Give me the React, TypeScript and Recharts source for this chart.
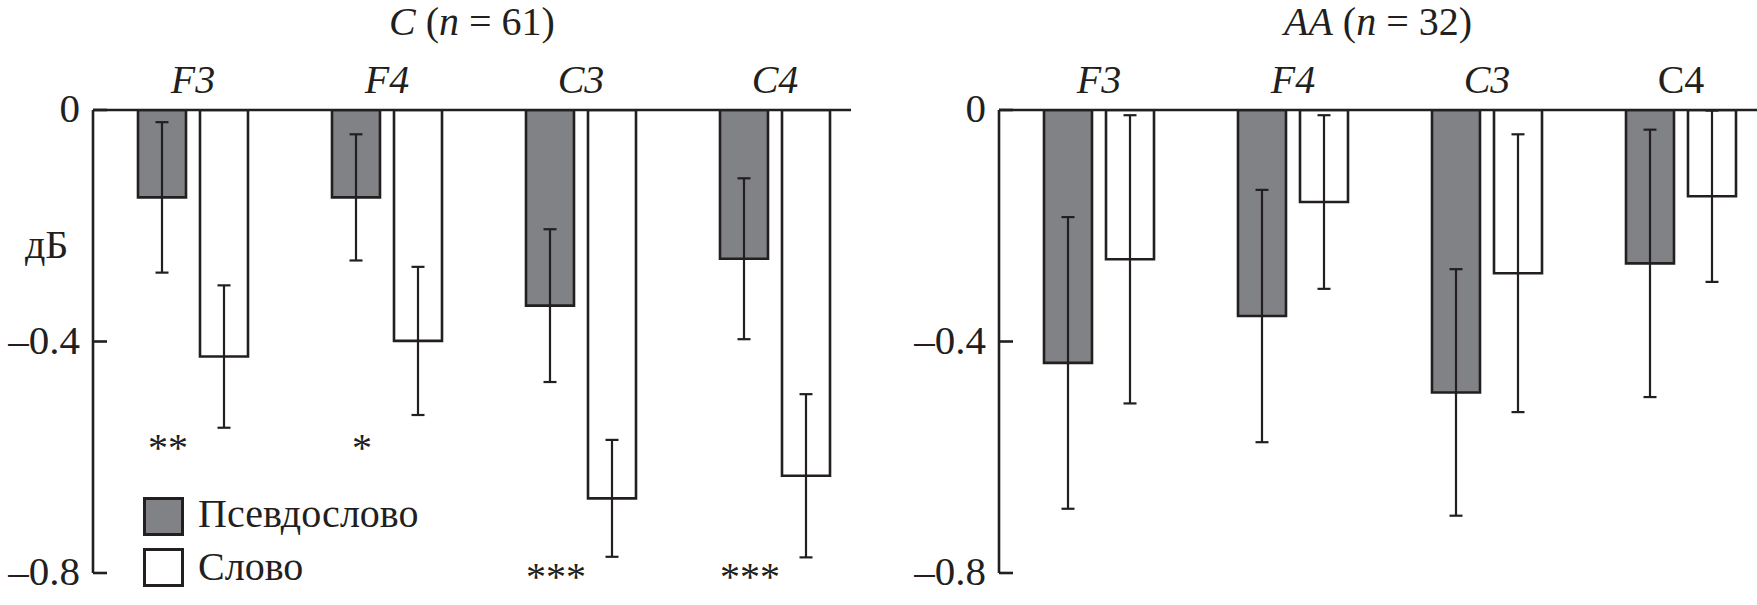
import React from 'react';
import { BarChart, Bar, XAxis, YAxis, ErrorBar, ReferenceDot } from 'recharts';

const categories = ['F3', 'F4', 'C3', 'C4'];

const controlPseudo = [-0.151, -0.151, -0.338, -0.257];
const controlPseudoErr = [0.13, 0.109, 0.132, 0.139];
const controlWord = [-0.426, -0.399, -0.671, -0.632];
const controlWordErr = [0.123, 0.128, 0.101, 0.141];

const aaPseudo = [-0.437, -0.356, -0.488, -0.265];
const aaPseudoErr = [0.252, 0.218, 0.213, 0.231];
const aaWord = [-0.258, -0.159, -0.282, -0.149];
const aaWordErr = [0.249, 0.15, 0.24, 0.148];

const controlSignificance = ['**', '*', '***', '***'];
const controlSignificanceLevel = [-0.582, -0.582, -0.805, -0.805];

const yTicks = [0, -0.4, -0.8];
const controlItalic = [true, true, true, true];
const aaItalic = [true, true, true, false];

const INK = '#231f20';
const GRAY = '#808285';
const FONT = '"Liberation Serif", "Times New Roman", serif';

const buildRows = (pseudo: number[], pErr: number[], word: number[], wErr: number[]) =>
  categories.map((cat, i) => ({
    cat,
    pseudo: pseudo[i],
    pseudoErr: pErr[i],
    word: word[i],
    wordErr: wErr[i],
  }));

const controlRows = buildRows(controlPseudo, controlPseudoErr, controlWord, controlWordErr);
const aaRows = buildRows(aaPseudo, aaPseudoErr, aaWord, aaWordErr);

const fmt = (v: number) => (v === 0 ? '0' : '\u2013' + Math.abs(v).toFixed(1));

const makeCatTick = (italics: boolean[]) => (props: any) => {
  const { x, y, payload, index } = props;
  return (
    <text
      x={x}
      y={y}
      textAnchor="middle"
      fontFamily={FONT}
      fontSize={40}
      fill={INK}
      fontStyle={italics[index] ? 'italic' : 'normal'}
    >
      {payload.value}
    </text>
  );
};

const YTick = (props: any) => {
  const { x, y, payload } = props;
  const ax = x + 13;
  return (
    <g>
      <line x1={ax} y1={y} x2={ax + 14} y2={y} stroke={INK} strokeWidth={2.6} />
      <text x={x} y={y + 12} textAnchor="end" fontFamily={FONT} fontSize={41} fill={INK}>
        {fmt(payload.value)}
      </text>
    </g>
  );
};

type PanelProps = {
  rows: any[];
  italics: boolean[];
  width: number;
  marginLeft: number;
  marginRight: number;
  yWidth: number;
  significance?: string[];
  significanceLevel?: number[];
};

const Panel = ({ rows, italics, width, marginLeft, marginRight, yWidth, significance, significanceLevel }: PanelProps) => (
  <BarChart
    width={width}
    height={605}
    data={rows}
    margin={{ top: 60, right: marginRight, bottom: 32, left: marginLeft }}
    barSize={48}
    barGap={14}
  >
    <XAxis
      dataKey="cat"
      orientation="top"
      height={50}
      interval={0}
      tickSize={0}
      tickMargin={17}
      tickLine={false}
      axisLine={{ stroke: INK, strokeWidth: 2.6 }}
      padding={{ left: 3, right: -21 }}
      tick={makeCatTick(italics)}
    />
    <YAxis
      type="number"
      domain={[-0.8, 0]}
      ticks={yTicks}
      allowDataOverflow
      width={yWidth}
      tickSize={0}
      tickMargin={13}
      tickLine={false}
      axisLine={{ stroke: INK, strokeWidth: 2.6 }}
      tick={YTick}
    />
    <Bar dataKey="pseudo" fill={GRAY} stroke={INK} strokeWidth={2.6} isAnimationActive={false}>
      <ErrorBar dataKey="pseudoErr" width={6.5} strokeWidth={2.2} stroke={INK} direction="y" isAnimationActive={false} />
    </Bar>
    <Bar dataKey="word" fill="#ffffff" stroke={INK} strokeWidth={2.6} isAnimationActive={false}>
      <ErrorBar dataKey="wordErr" width={6.5} strokeWidth={2.2} stroke={INK} direction="y" isAnimationActive={false} />
    </Bar>
    {significance &&
      significanceLevel &&
      categories.map((c, i) => (
        <ReferenceDot
          key={c}
          x={c}
          y={significanceLevel[i]}
          r={0}
          ifOverflow="visible"
          shape={(p: any) => (
            <text
              x={p.cx - 25}
              y={p.cy + 14}
              textAnchor="middle"
              fontFamily={FONT}
              fontSize={40}
              fill={INK}
            >
              {significance[i]}
            </text>
          )}
        />
      ))}
  </BarChart>
);

export default function App() {
  return (
    <div
      style={{
        position: 'absolute',
        left: 0,
        top: 0,
        width: 1757,
        height: 605,
        background: '#ffffff',
        overflow: 'hidden',
        fontFamily: FONT,
      }}
    >
      <div style={{ position: 'absolute', left: 0, top: 0 }}>
        <Panel
          rows={controlRows}
          italics={controlItalic}
          width={880}
          marginLeft={0}
          marginRight={29}
          yWidth={93}
          significance={controlSignificance}
          significanceLevel={controlSignificanceLevel}
        />
      </div>
      <div style={{ position: 'absolute', left: 880, top: 0 }}>
        <Panel rows={aaRows} italics={aaItalic} width={877} marginLeft={0} marginRight={0} yWidth={119} />
      </div>
      <svg
        width={1757}
        height={605}
        style={{ position: 'absolute', left: 0, top: 0, pointerEvents: 'none' }}
      >
        <text x={472} y={35} textAnchor="middle" fontFamily={FONT} fontSize={40} fill={INK}>
          <tspan fontStyle="italic">C</tspan> (<tspan fontStyle="italic">n</tspan> = 61)
        </text>
        <text x={1378} y={35} textAnchor="middle" fontFamily={FONT} fontSize={40} fill={INK}>
          <tspan fontStyle="italic">AA</tspan> (<tspan fontStyle="italic">n</tspan> = 32)
        </text>
        <text x={25} y={258} fontFamily={FONT} fontSize={40} fill={INK}>
          дБ
        </text>
        <rect x={144.5} y={498.5} width={38} height={36} fill={GRAY} stroke={INK} strokeWidth={3} />
        <text x={198} y={527} fontFamily={FONT} fontSize={40} fill={INK}>
          Псевдослово
        </text>
        <rect x={144.5} y={549.5} width={38} height={36} fill="#ffffff" stroke={INK} strokeWidth={3} />
        <text x={198} y={580} fontFamily={FONT} fontSize={40} fill={INK}>
          Слово
        </text>
      </svg>
    </div>
  );
}
